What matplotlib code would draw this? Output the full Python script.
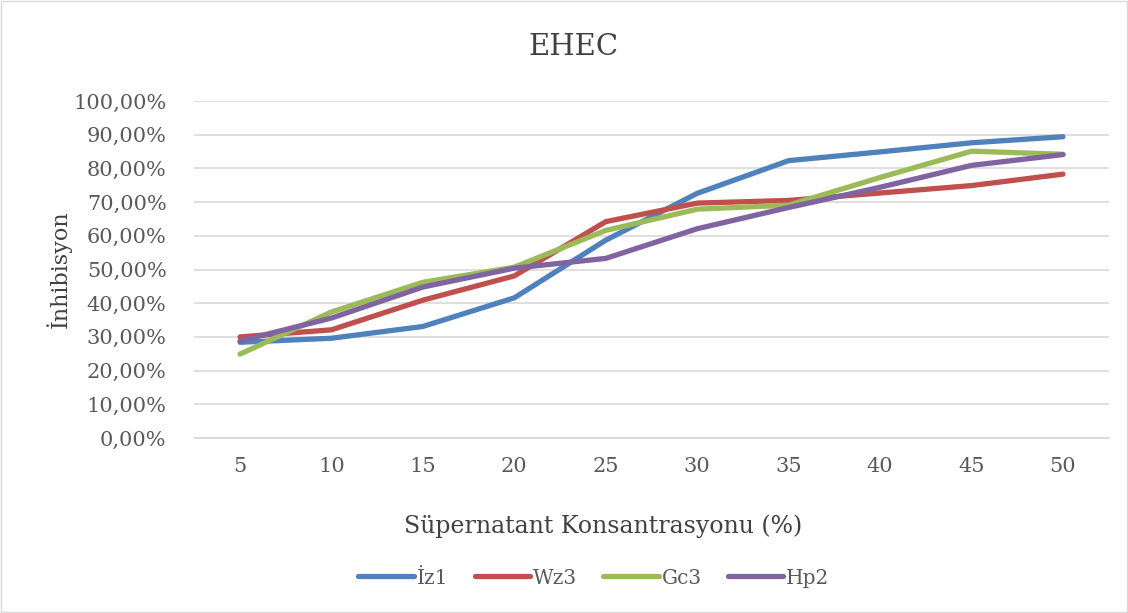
import numpy as np
import matplotlib.pyplot as plt
from matplotlib.ticker import FuncFormatter

plt.rcParams['font.family'] = ['DejaVu Serif']

konsantrasyon = ['5', '10', '15', '20', '25', '30', '35', '40', '45', '50']
iz1 = [28.4, 29.6, 33.1, 41.6, 58.7, 72.6, 82.3, 84.9, 87.6, 89.4]
wz3 = [30.0, 32.1, 40.9, 48.1, 64.2, 69.7, 70.5, 72.7, 74.9, 78.3]
gc3 = [24.9, 37.4, 46.2, 50.7, 61.6, 67.9, 69.1, 77.3, 85.1, 84.2]
hp2 = [28.8, 35.6, 44.8, 50.4, 53.3, 62.1, 68.4, 74.4, 80.9, 84.1]

seriler = ['İz1', 'Wz3', 'Gc3', 'Hp2']
renkler = ['#4F81BD', '#C0504D', '#9BBB59', '#8064A2']

fig = plt.figure(figsize=(11.28, 6.13), dpi=100)
ax = fig.add_axes([194.3/1128, 1 - 438/613, (1108.7-194.3)/1128, (438-101)/613])

x = np.arange(1, len(konsantrasyon) + 1)
for ad, vals, c in zip(seriler, [iz1, wz3, gc3, hp2], renkler):
    ax.plot(x, vals, color=c, lw=3.8, label=ad, solid_capstyle='round', solid_joinstyle='round')

ax.set_xlim(0.5, len(konsantrasyon) + 0.5)
ax.set_ylim(0, 100)
ax.set_xticks(x)
ax.set_xticklabels(konsantrasyon)
ax.set_yticks(np.arange(0, 101, 10))
ax.yaxis.set_major_formatter(FuncFormatter(lambda v, p: f"{v:.2f}%".replace('.', ',')))
ax.grid(axis='y', color='#D9D9D9', lw=1.2)
ax.set_axisbelow(True)
for s in ['top', 'right', 'left']:
    ax.spines[s].set_visible(False)
ax.spines['bottom'].set_color('#D9D9D9')
ax.spines['bottom'].set_linewidth(1.2)
ax.tick_params(length=0, labelsize=15, colors='#595959')
ax.tick_params(axis='y', pad=20)
ax.tick_params(axis='x', pad=14)

ax.set_ylabel('İnhibisyon', fontsize=16, color='#404040')
ax.yaxis.set_label_coords((72 - 194.3) / 914.4, 0.5)
ax.set_xlabel('Süpernatant Konsantrasyonu (%)', fontsize=17, color='#404040')
ax.xaxis.set_label_coords((603 - 194.3) / 914.4, -(514 - 438) / 337)
fig.text(573/1128, 1 - 47/613, 'EHEC', ha='center', va='center', fontsize=21, color='#404040')

fig.legend(loc='center', bbox_to_anchor=(594/1128, 1 - 578/613), ncol=4, frameon=False,
           fontsize=14.5, labelcolor='#595959', handlelength=2.75, columnspacing=1.3, handletextpad=0.15)

fig.patches.append(plt.Rectangle((0.001, 0.001), 0.998, 0.998, transform=fig.transFigure,
                                 fill=False, edgecolor='#D9D9D9', lw=1))
fig.savefig('out.png', dpi=100)
